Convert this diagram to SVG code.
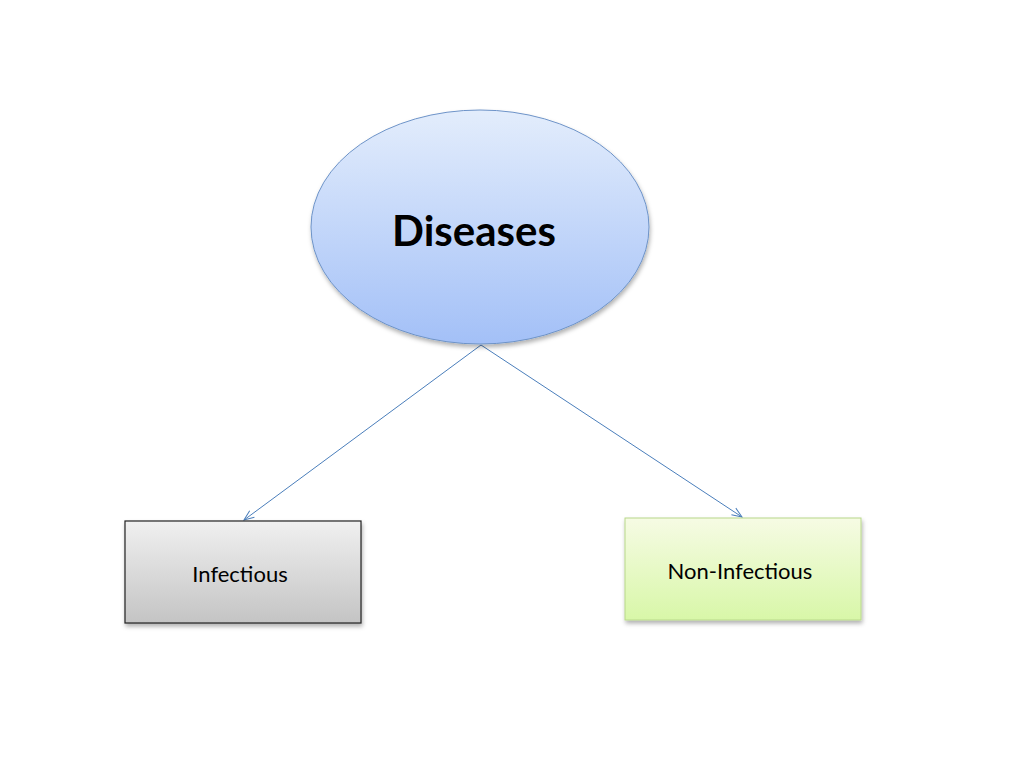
<svg xmlns="http://www.w3.org/2000/svg" width="1024" height="768" viewBox="0 0 1024 768">
<defs>
<linearGradient id="gb" x1="0" y1="0" x2="0" y2="1"><stop offset="0" stop-color="#e3edfc"/><stop offset="1" stop-color="#a3c0f7"/></linearGradient>
<linearGradient id="gg" x1="0" y1="0" x2="0" y2="1"><stop offset="0" stop-color="#f0f0f0"/><stop offset="1" stop-color="#c4c4c4"/></linearGradient>
<linearGradient id="gy" x1="0" y1="0" x2="0" y2="1"><stop offset="0" stop-color="#f6fbe4"/><stop offset="1" stop-color="#d8f7a8"/></linearGradient>
<filter id="sh" x="-10%" y="-10%" width="130%" height="130%"><feDropShadow dx="1" dy="3" stdDeviation="2" flood-opacity="0.3"/></filter>
<marker id="ar" markerWidth="12" markerHeight="10" refX="11" refY="5" orient="auto" markerUnits="userSpaceOnUse"><path d="M1,1 L11,5 L1,9" fill="none" stroke="#4a7ebb" stroke-width="1"/></marker>
<style>text{font-family:Lato,"Liberation Sans",sans-serif;fill:#000}.c{stroke:#4a7ebb;stroke-width:1;fill:none}</style>
</defs>
<rect width="1024" height="768" fill="#fff"/>
<g id="connectors">
<line class="c" x1="481" y1="345" x2="244" y2="520" marker-end="url(#ar)"/>
<line class="c" x1="481" y1="345" x2="742" y2="517" marker-end="url(#ar)"/>
</g>
<g id="diseases"><ellipse cx="480" cy="227" rx="169" ry="117" fill="url(#gb)" stroke="#6d93c8" stroke-width="1" filter="url(#sh)"/>
<text x="474" y="246" font-size="42" font-weight="bold" text-anchor="middle">Diseases</text></g>
<g id="infectious"><rect x="125" y="521" width="236" height="102" fill="url(#gg)" stroke="#222" stroke-width="1.2" filter="url(#sh)"/>
<text x="240" y="582" font-size="22" text-anchor="middle">Infectious</text></g>
<g id="noninfectious"><rect x="625" y="518" width="236" height="102" fill="url(#gy)" stroke="#b8d88a" stroke-width="1" filter="url(#sh)"/>
<text x="740" y="579" font-size="22" text-anchor="middle">Non-Infectious</text></g>
</svg>
